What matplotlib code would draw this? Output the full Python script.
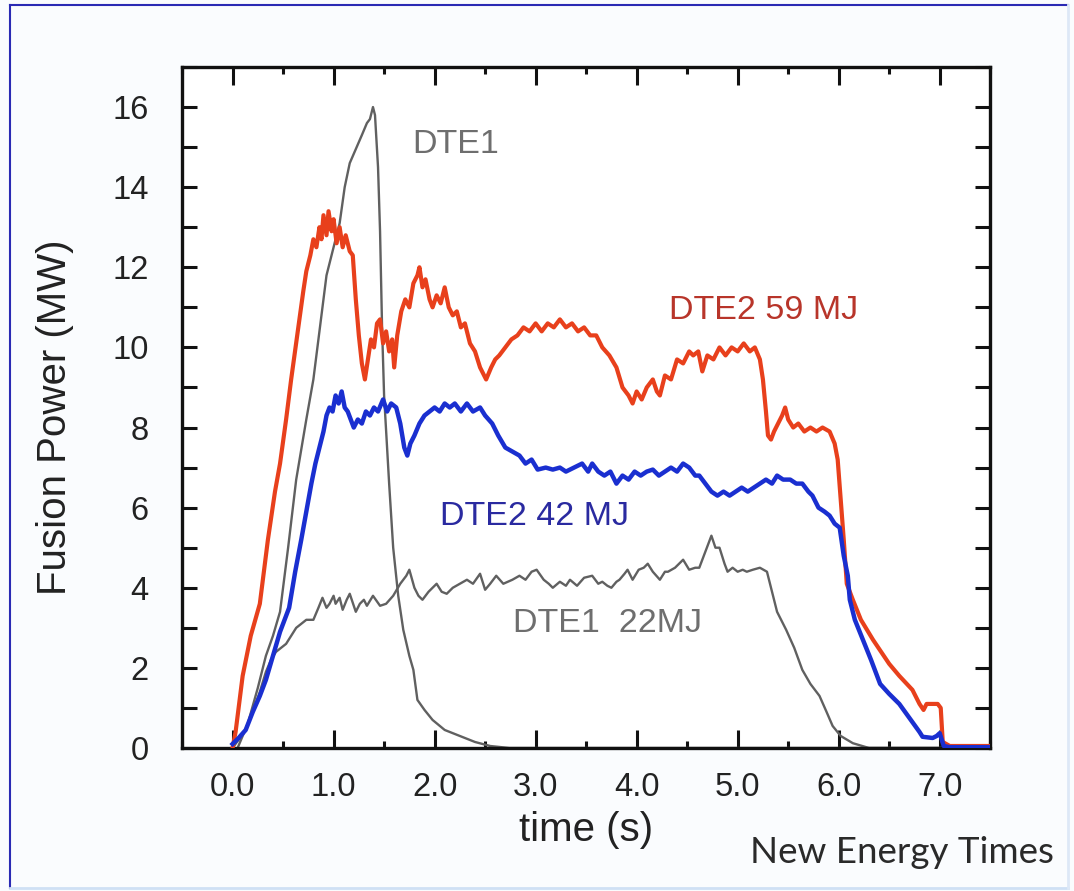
import matplotlib
matplotlib.use("Agg")
import matplotlib.pyplot as plt
from matplotlib.lines import Line2D
from matplotlib.ticker import MultipleLocator, FuncFormatter

# DTE2 59 MJ (red)
t_59 = [0.00, 0.03, 0.10, 0.18, 0.27, 0.35, 0.42, 0.47, 0.53, 0.58, 0.64, 0.70, 0.73, 0.77, 0.80,
        0.83, 0.86, 0.88, 0.90, 0.93, 0.95, 0.98, 1.00, 1.03, 1.06, 1.09, 1.12, 1.16, 1.19, 1.22,
        1.25, 1.28, 1.31, 1.34, 1.37, 1.40, 1.43, 1.46, 1.49, 1.52, 1.55, 1.58, 1.60, 1.63, 1.67,
        1.71, 1.75, 1.79, 1.83, 1.85, 1.88, 1.91, 1.95, 1.98, 2.02, 2.06, 2.10, 2.14, 2.18, 2.22,
        2.26, 2.30, 2.35, 2.40, 2.45, 2.51, 2.56, 2.60, 2.64, 2.70, 2.76, 2.82, 2.88, 2.94, 3.00,
        3.06, 3.12, 3.18, 3.24, 3.30, 3.36, 3.42, 3.48, 3.54, 3.60, 3.66, 3.73, 3.80, 3.86, 3.92,
        3.96, 4.00, 4.05, 4.10, 4.16, 4.20, 4.23, 4.28, 4.34, 4.40, 4.46, 4.52, 4.56, 4.61, 4.65,
        4.70, 4.76, 4.82, 4.88, 4.94, 5.00, 5.06, 5.12, 5.17, 5.22, 5.25, 5.28, 5.30, 5.33, 5.36,
        5.40, 5.44, 5.47, 5.50, 5.55, 5.60, 5.66, 5.72, 5.78, 5.84, 5.91, 5.96, 5.99, 6.02, 6.05,
        6.08, 6.14, 6.22, 6.34, 6.42, 6.50, 6.60, 6.73, 6.80, 6.84, 6.87, 6.93, 6.98, 7.01, 7.03,
        7.10, 7.50]
p_59 = [0.0, 0.4, 1.8, 2.8, 3.6, 5.2, 6.4, 7.1, 8.2, 9.2, 10.3, 11.4, 11.9, 12.3, 12.7,
        12.5, 13.0, 12.7, 13.3, 12.8, 13.4, 12.9, 13.2, 12.6, 13.0, 12.5, 12.8, 12.4, 12.3, 11.2,
        10.3, 9.6, 9.2, 9.7, 10.2, 10.0, 10.6, 10.7, 10.1, 10.4, 9.9, 10.2, 9.5, 10.3, 10.9,
        11.2, 11.0, 11.6, 11.8, 12.0, 11.5, 11.7, 11.2, 11.0, 11.3, 11.1, 11.5, 11.0, 10.8, 10.9,
        10.5, 10.6, 10.1, 9.9, 9.5, 9.2, 9.5, 9.7, 9.8, 10.0, 10.2, 10.3, 10.5, 10.4, 10.6,
        10.4, 10.6, 10.5, 10.7, 10.5, 10.6, 10.4, 10.5, 10.3, 10.3, 10.0, 9.8, 9.5, 9.0, 8.8,
        8.6, 8.9, 8.7, 9.0, 9.2, 8.9, 8.8, 9.3, 9.2, 9.7, 9.6, 9.9, 9.8, 9.9, 9.4,
        9.8, 9.7, 10.0, 9.8, 10.0, 9.9, 10.1, 9.9, 10.0, 9.7, 9.2, 8.4, 7.8, 7.7, 7.9,
        8.1, 8.3, 8.5, 8.2, 8.0, 8.1, 7.9, 8.0, 7.9, 8.0, 7.9, 7.6, 7.2, 6.2, 5.2,
        4.1, 3.7, 3.2, 2.7, 2.4, 2.1, 1.8, 1.45, 1.1, 0.95, 1.1, 1.1, 1.1, 1.0, 0.15,
        0.05, 0.05]

# DTE2 42 MJ (blue)
t_42 = [0.00, 0.06, 0.13, 0.20, 0.27, 0.33, 0.40, 0.47, 0.56, 0.62, 0.68, 0.73, 0.78, 0.82, 0.86,
        0.90, 0.93, 0.96, 0.99, 1.02, 1.05, 1.08, 1.11, 1.14, 1.17, 1.20, 1.24, 1.28, 1.32, 1.36,
        1.40, 1.44, 1.49, 1.53, 1.57, 1.62, 1.66, 1.70, 1.73, 1.76, 1.80, 1.85, 1.90, 1.95, 2.00,
        2.05, 2.10, 2.15, 2.20, 2.26, 2.32, 2.38, 2.45, 2.50, 2.57, 2.63, 2.70, 2.77, 2.84, 2.90,
        2.96, 3.02, 3.10, 3.17, 3.24, 3.30, 3.38, 3.46, 3.52, 3.56, 3.62, 3.68, 3.74, 3.80, 3.86,
        3.92, 3.98, 4.04, 4.10, 4.16, 4.22, 4.28, 4.34, 4.40, 4.46, 4.52, 4.58, 4.62, 4.68, 4.74,
        4.80, 4.86, 4.92, 4.98, 5.04, 5.10, 5.16, 5.22, 5.28, 5.34, 5.39, 5.45, 5.52, 5.58, 5.64,
        5.70, 5.74, 5.80, 5.86, 5.91, 5.96, 6.01, 6.05, 6.09, 6.11, 6.16, 6.24, 6.32, 6.41, 6.50,
        6.60, 6.70, 6.80, 6.83, 6.93, 6.97, 7.00, 7.04, 7.10, 7.50]
p_42 = [0.1, 0.25, 0.45, 0.9, 1.3, 1.7, 2.3, 2.9, 3.5, 4.4, 5.2, 5.9, 6.6, 7.1, 7.5,
        7.9, 8.3, 8.5, 8.4, 8.8, 8.6, 8.9, 8.5, 8.4, 8.2, 8.0, 8.2, 8.1, 8.4, 8.3,
        8.5, 8.4, 8.7, 8.4, 8.6, 8.5, 8.1, 7.5, 7.3, 7.6, 7.8, 8.1, 8.3, 8.4, 8.5,
        8.4, 8.6, 8.5, 8.6, 8.4, 8.6, 8.4, 8.5, 8.3, 8.1, 7.8, 7.5, 7.4, 7.3, 7.1,
        7.2, 6.95, 7.0, 6.95, 7.0, 6.9, 7.0, 7.1, 6.9, 7.1, 6.9, 6.8, 6.9, 6.6, 6.8,
        6.7, 6.9, 6.8, 6.9, 6.95, 6.8, 6.9, 7.0, 6.9, 7.1, 7.0, 6.8, 6.8, 6.6, 6.4,
        6.3, 6.4, 6.3, 6.4, 6.5, 6.4, 6.5, 6.6, 6.7, 6.6, 6.8, 6.7, 6.7, 6.6, 6.6,
        6.4, 6.3, 6.0, 5.9, 5.8, 5.6, 5.5, 4.8, 4.3, 3.7, 3.2, 2.7, 2.2, 1.6, 1.35,
        1.1, 0.75, 0.4, 0.28, 0.25, 0.3, 0.37, 0.05, 0.02, 0.02]

# DTE1 peak (gray)
t_dte1 = [0.05, 0.15, 0.25, 0.33, 0.40, 0.47, 0.55, 0.63, 0.73, 0.80, 0.87, 0.93, 1.00, 1.06, 1.11,
          1.16, 1.22, 1.28, 1.33, 1.36, 1.39, 1.41, 1.44, 1.46, 1.48, 1.50, 1.55, 1.59, 1.64, 1.69,
          1.75, 1.79, 1.83, 1.90, 1.98, 2.10, 2.20, 2.30, 2.40, 2.55, 2.74, 7.50]
p_dte1 = [0.0, 0.6, 1.5, 2.3, 2.8, 3.4, 5.0, 6.7, 8.2, 9.2, 10.6, 11.8, 12.5, 13.1, 14.0,
          14.6, 14.95, 15.3, 15.6, 15.7, 16.0, 15.8, 14.5, 12.9, 10.5, 8.8, 6.6, 5.0, 3.8, 2.95,
          2.3, 1.95, 1.2, 0.95, 0.7, 0.45, 0.35, 0.25, 0.15, 0.05, 0.0, 0.0]

# DTE1 22MJ (gray)
t_22 = [0.00, 0.13, 0.20, 0.27, 0.33, 0.38, 0.43, 0.48, 0.53, 0.58, 0.63, 0.68, 0.73, 0.80, 0.85,
        0.89, 0.93, 0.96, 1.00, 1.02, 1.06, 1.09, 1.13, 1.16, 1.22, 1.26, 1.30, 1.33, 1.39, 1.46,
        1.52, 1.59, 1.66, 1.72, 1.75, 1.80, 1.84, 1.88, 1.94, 2.02, 2.07, 2.12, 2.18, 2.25, 2.32,
        2.38, 2.45, 2.50, 2.55, 2.61, 2.68, 2.77, 2.84, 2.90, 2.96, 3.01, 3.08, 3.13, 3.17, 3.24,
        3.30, 3.34, 3.41, 3.48, 3.56, 3.62, 3.66, 3.71, 3.75, 3.80, 3.83, 3.88, 3.91, 3.96, 4.02,
        4.07, 4.11, 4.16, 4.23, 4.28, 4.31, 4.38, 4.46, 4.52, 4.58, 4.62, 4.68, 4.74, 4.78, 4.82,
        4.87, 4.90, 4.95, 5.00, 5.05, 5.09, 5.15, 5.22, 5.29, 5.34, 5.39, 5.48, 5.56, 5.64, 5.72,
        5.81, 5.88, 5.94, 6.02, 6.14, 6.30, 7.50]
p_22 = [0.0, 0.45, 0.9, 1.4, 1.9, 2.2, 2.4, 2.5, 2.6, 2.8, 3.0, 3.1, 3.2, 3.2, 3.5,
        3.75, 3.5, 3.6, 3.8, 3.6, 3.75, 3.45, 3.7, 3.85, 3.4, 3.6, 3.7, 3.55, 3.8, 3.55,
        3.6, 3.8, 4.1, 4.3, 4.45, 4.0, 3.8, 3.7, 3.9, 4.1, 3.9, 3.85, 4.0, 4.1, 4.2,
        4.1, 4.35, 3.95, 4.1, 4.3, 4.1, 4.2, 4.3, 4.2, 4.4, 4.45, 4.2, 4.1, 4.0, 4.15,
        4.05, 4.2, 4.05, 4.25, 4.3, 4.1, 4.15, 4.05, 4.0, 4.15, 4.2, 4.35, 4.45, 4.2, 4.45,
        4.5, 4.6, 4.4, 4.2, 4.4, 4.4, 4.5, 4.7, 4.45, 4.5, 4.5, 4.9, 5.3, 5.0, 5.0,
        4.6, 4.4, 4.5, 4.4, 4.45, 4.4, 4.45, 4.5, 4.4, 3.9, 3.4, 2.95, 2.5, 1.95, 1.6,
        1.3, 0.9, 0.55, 0.3, 0.12, 0.0, 0.0]

x_ticks = [0, 1, 2, 3, 4, 5, 6, 7]
x_labels = ["0.0", "1.0", "2.0", "3.0", "4.0", "5.0", "6.0", "7.0"]

plt.rcParams['font.family'] = ['Liberation Sans', 'DejaVu Sans']

fig = plt.figure(figsize=(10.74, 8.91), dpi=100, facecolor='#fafcfe')
ax = fig.add_axes([0.1695, 0.1605, 0.922 - 0.1695, 0.9248 - 0.1605])
ax.set_facecolor('white')

ax.plot(t_dte1, p_dte1, color='#606060', lw=1.7, zorder=2)
ax.plot(t_22, p_22, color='#606060', lw=1.7, zorder=2)
ax.plot(t_59, p_59, color='#e8401c', lw=3.0, zorder=3)
ax.plot(t_42, p_42, color='#1a2fd0', lw=3.2, zorder=4)

ax.set_xlim(-0.5, 7.5)
ax.set_ylim(0, 17)

ax.set_xticks(x_ticks)
ax.set_xticklabels(x_labels)
ax.xaxis.set_minor_locator(MultipleLocator(0.5))
ax.yaxis.set_major_locator(MultipleLocator(2))
ax.yaxis.set_minor_locator(MultipleLocator(1))
ax.yaxis.set_major_formatter(FuncFormatter(lambda v, p: "%d" % v))

ax.tick_params(axis='both', which='both', direction='in', top=True, right=True,
               width=2.2, colors='#111111', labelsize=23.5, labelcolor='#222222')
ax.tick_params(axis='x', which='major', length=13, pad=17)
ax.tick_params(axis='x', which='minor', length=5)
ax.tick_params(axis='y', which='both', length=10.5, pad=24)
for s in ax.spines.values():
    s.set_linewidth(2.4)
    s.set_color('#111111')

ax.set_xlabel("time (s)", fontsize=29, color='#222222', labelpad=6)
ax.set_ylabel("Fusion Power (MW)", fontsize=29, color='#222222')
ax.yaxis.set_label_coords(-0.134, 0.485)

ax.text(2.21, 14.85, "DTE1", fontsize=24.5, color='#6e6e6e', ha='center', va='baseline')
ax.text(5.26, 10.72, "DTE2 59 MJ", fontsize=24.5, color='#b8352a', ha='center', va='baseline')
ax.text(2.99, 5.57, "DTE2 42 MJ", fontsize=24.5, color='#2a2aa0', ha='center', va='baseline')
ax.text(3.71, 2.9, "DTE1  22MJ", fontsize=24.5, color='#6e6e6e', ha='center', va='baseline')

fig.text(0.840, 0.0314, "New Energy Times", fontsize=26.5, family='Lato', color='#2a2a2a',
         ha='center', va='baseline')

# picture frame
fig.add_artist(Line2D([0.0093, 0.9944], [0.9944, 0.9944], color='#2a2ab4', lw=1.5))
fig.add_artist(Line2D([0.0093, 0.0093], [0.0034, 0.9944], color='#2a2ab4', lw=1.5))
fig.add_artist(Line2D([0.0093, 0.9944], [0.0034, 0.0034], color='#cfe0f5', lw=2))
fig.add_artist(Line2D([0.9944, 0.9944], [0.0034, 0.9944], color='#dde8f7', lw=2))

fig.savefig("out.png", dpi=100, facecolor=fig.get_facecolor())
